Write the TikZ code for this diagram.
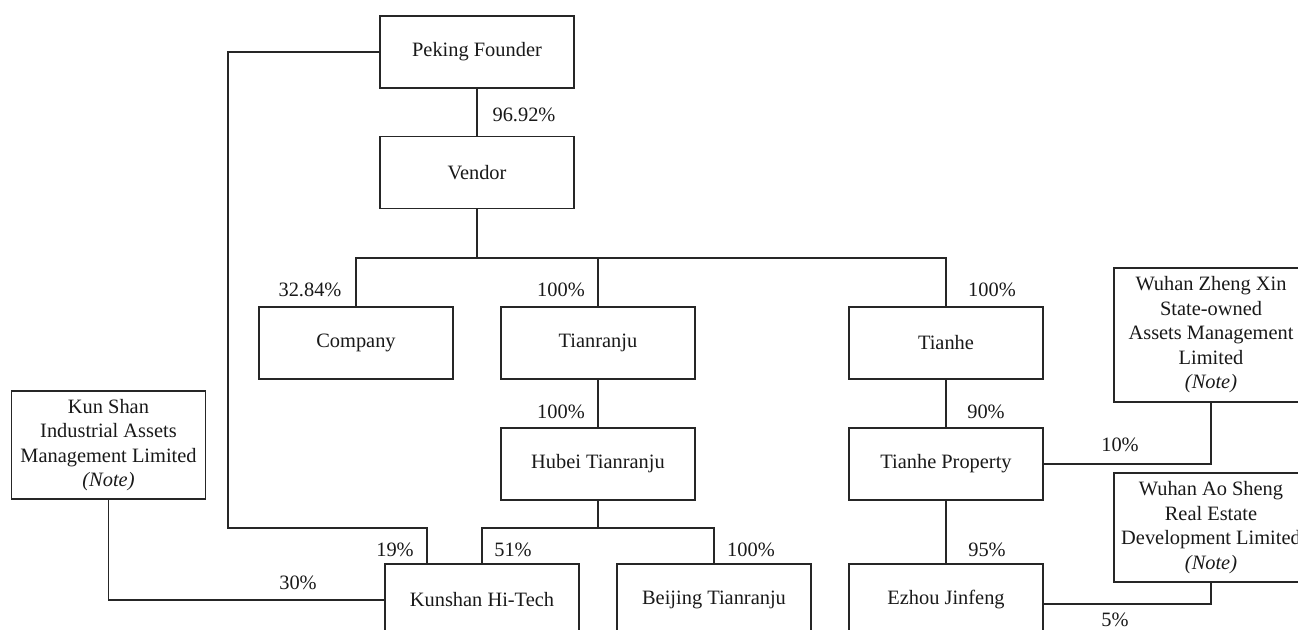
\documentclass[tikz,border=0pt]{standalone}
\usepackage{fontspec}
\setmainfont{Liberation Serif}

\begin{document}
\begin{tikzpicture}[x=0.75pt,y=-0.75pt]
\tikzstyle{firm}=[rectangle,draw=black!85,line width=1.1pt,fill=white,minimum width=145.5pt,minimum height=54pt,inner sep=0pt,align=center,text=black!90,font=\fontsize{15.3}{18.4}\selectfont]
\tikzstyle{share}=[inner sep=0pt,text=black!90,font=\fontsize{15.3}{18}\selectfont]
\tikzstyle{link}=[draw=black!85,line width=1.1pt]

\useasboundingbox (0,0) rectangle (1298,630);

\node[firm] (founder) at (477,52)  {Peking Founder};
\node[firm] (vendor)  at (477,172.5) {Vendor};
\draw[link] (founder) -- (vendor);
\node[share] (pFounder) at (524,115) {96.92\%};

\coordinate (bus) at (477,258);
\node[firm] (company)   at (356,343) {Company};
\node[firm] (tianranju) at (598,343) {Tianranju};
\node[firm] (tianhe)    at (946,343) {Tianhe};
\draw[link] (vendor.south) -- (bus);
\draw[link] (company.north) |- (bus) -| (tianhe.north);
\draw[link] (bus) -| (tianranju.north);
\node[share] (pCompany)   at (310,290) {32.84\%};
\node[share] (pTianranju) at (561,290) {100\%};
\node[share] (pTianhe)    at (992,290) {100\%};

\node[firm] (hubei)      at (598,464) {Hubei Tianranju};
\node[firm] (tianheProp) at (946,464) {Tianhe Property};
\draw[link] (tianranju) -- (hubei);
\draw[link] (tianhe) -- (tianheProp);
\node[share] (pHubei)      at (561,412) {100\%};
\node[share] (pTianheProp) at (986,412) {90\%};

\node[firm,minimum height=100.5pt] (zhengXin) at (1211,335)
  {Wuhan Zheng Xin\\State-owned\\Assets Management\\Limited\\\textit{(Note)}};
\draw[link] (zhengXin.south) |- (tianheProp.east);
\node[share] (pZhengXin) at (1120,445) {10\%};

\node[firm,minimum height=81pt] (kunShan) at (108.5,445)
  {Kun Shan\\Industrial Assets\\Management Limited\\\textit{(Note)}};
\node[firm,minimum height=82pt] (aoSheng) at (1211,527.5)
  {Wuhan Ao Sheng\\Real Estate\\Development Limited\\\textit{(Note)}};

\node[firm] (hiTech)  at (482,600) {Kunshan Hi-Tech};
\node[firm] (beijing) at (714,600) {Beijing Tianranju};
\node[firm] (ezhou)   at (946,600) {Ezhou Jinfeng};

\coordinate (hJoin) at (598,528);
\draw[link] (hubei.south) -- (hJoin);
\draw[link] (hiTech.north) |- (hJoin) -| (beijing.north);
\coordinate (fBend) at (228,528);
\coordinate (fJoin) at (427,528);
\draw[link] (founder.west) -| (fBend) -- (fJoin) -- (fJoin |- hiTech.north);
\draw[link] (kunShan.south) |- (hiTech.west);
\draw[link] (tianheProp) -- (ezhou);
\draw[link] (aoSheng.south) |- ([yshift=-3pt]ezhou.east);

\node[share] (pFounderHT) at (395,550) {19\%};
\node[share] (pHubeiHT)   at (513,550) {51\%};
\node[share] (pBeijing)   at (751,550) {100\%};
\node[share] (pEzhou)     at (987,550) {95\%};
\node[share] (pKunShan)   at (298,583) {30\%};
\node[share] (pAoSheng)   at (1115,620) {5\%};

\end{tikzpicture}
\end{document}
